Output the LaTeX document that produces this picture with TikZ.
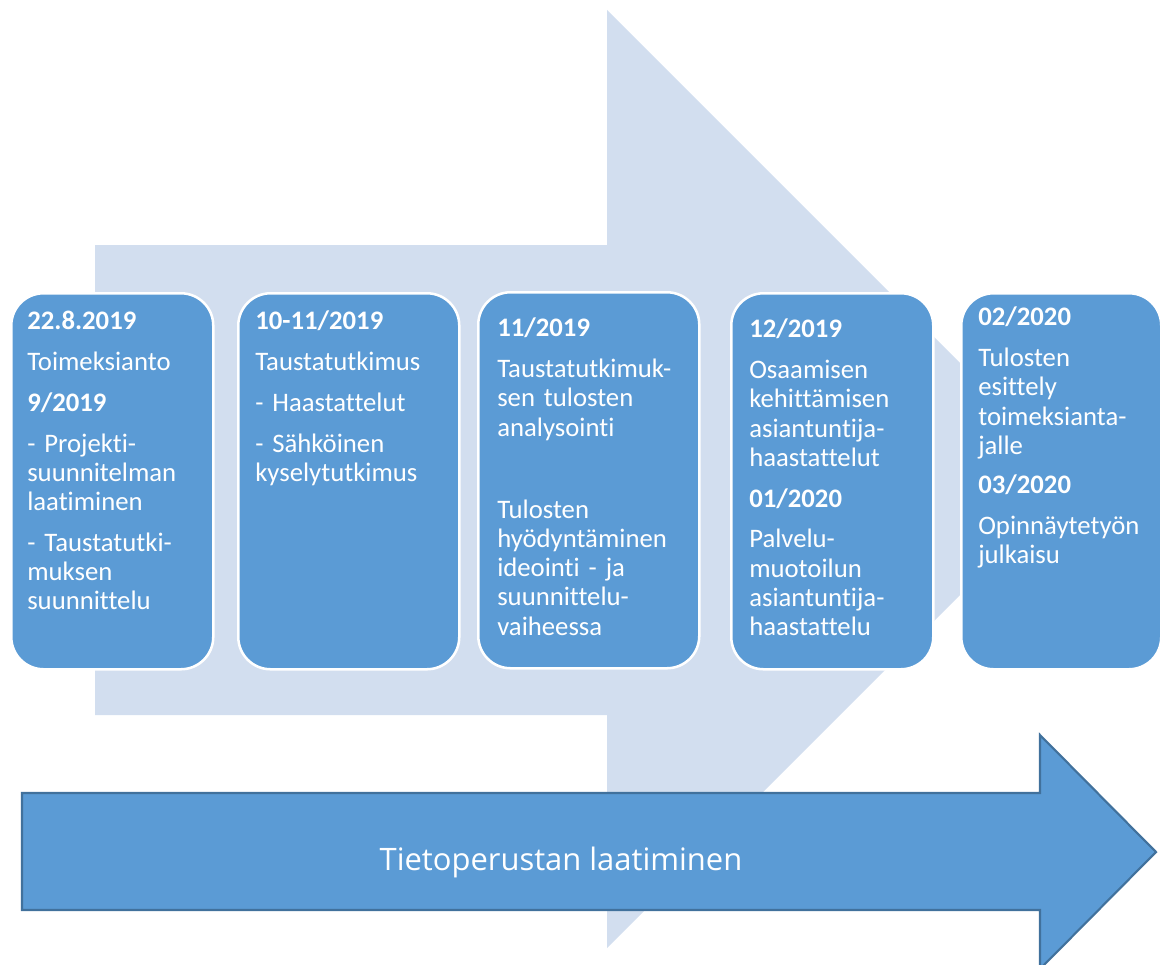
\documentclass[tikz,border=0pt]{standalone}
\usepackage{fontspec}
\setmainfont[Ligatures=NoCommon]{Carlito}
\newfontfamily\arrowfont{Open Sans}
\usetikzlibrary{positioning}

\definecolor{stageblue}{RGB}{91,155,213}
\definecolor{paleblue}{RGB}{210,222,239}
\definecolor{edgeblue}{RGB}{65,113,156}

\begin{document}
\begin{tikzpicture}[x=0.025cm, y=-0.025cm,
    stagebox/.style={draw=white, line width=1.8pt, fill=stageblue, rounded corners=23pt,
      anchor=north west, inner sep=0pt, minimum height=376*0.025cm},
    stagetext/.style={anchor=north west, inner sep=0pt, text=white, align=left,
      text width=200pt, font=\fontsize{19}{20.8}\selectfont},
  ]
  \useasboundingbox (0,0) rectangle (1162,965);

  % background arrow
  \fill[paleblue] (95,245) -- (607,245) -- (607,10) -- (1076,479) -- (607,948)
    -- (607,715) -- (95,715) -- cycle;

  % stages
  \node[stagebox, minimum width=202*0.025cm] (b1) at (10,292) {};
  \node[stagebox, minimum width=221*0.025cm] (b2) at (237,292) {};
  \node[stagebox, minimum width=221*0.025cm] (b3) at (477,291) {};
  \node[stagebox, minimum width=202*0.025cm] (b4) at (730,292) {};
  \node[stagebox, minimum width=200*0.025cm] (b5) at (960,292) {};

  \node[stagetext] (t1) at ([shift={(17,17)}]b1.north west) {\strut\textbf{22.8.2019}\\[8.2pt]
    Toimeksianto\\[8.2pt]
    \textbf{9/2019}\\[8.2pt]
    - Projekti-\\suunnitelman\\laatiminen\\[8.2pt]
    - Taustatutki-\\muksen\\suunnittelu};
  \node[stagetext] (t2) at ([shift={(18,17)}]b2.north west) {\strut\textbf{10-11/2019}\\[8.2pt]
    Taustatutkimus\\[8.2pt]
    - Haastattelut\\[8.2pt]
    - Sähköinen\\kyselytutkimus};
  \node[stagetext] (t3) at ([shift={(20,25)}]b3.north west) {\strut\textbf{11/2019}\\[8.2pt]
    Taustatutkimuk-\\sen tulosten\\analysointi\\[37.5pt]
    Tulosten\\hyödyntäminen\\ideointi - ja\\suunnittelu-\\vaiheessa};
  \node[stagetext] (t4) at ([shift={(19,25)}]b4.north west) {\strut\textbf{12/2019}\\[8.2pt]
    Osaamisen\\kehittämisen\\asiantuntija-\\haastattelut\\[8.2pt]
    \textbf{01/2020}\\[8.2pt]
    Palvelu-\\muotoilun\\asiantuntija-\\haastattelu};
  \node[stagetext] (t5) at ([shift={(18,13)}]b5.north west) {\strut\textbf{02/2020}\\[8.2pt]
    Tulosten\\esittely\\toimeksianta-\\jalle\\[7pt]
    \textbf{03/2020}\\[8.2pt]
    Opinnäytetyön\\julkaisu};

  % base arrow
  \draw[edgeblue, fill=stageblue, line width=1.5pt] (22,793) -- (1040,793) -- (1040,735)
    -- (1156,852) -- (1040,969) -- (1040,910) -- (22,910) -- cycle;
  \node[anchor=base, text=white, inner sep=0pt, font=\arrowfont\fontsize{22}{26}\selectfont]
    (base) at (561,870) {Tietoperustan laatiminen};
\end{tikzpicture}
\end{document}
